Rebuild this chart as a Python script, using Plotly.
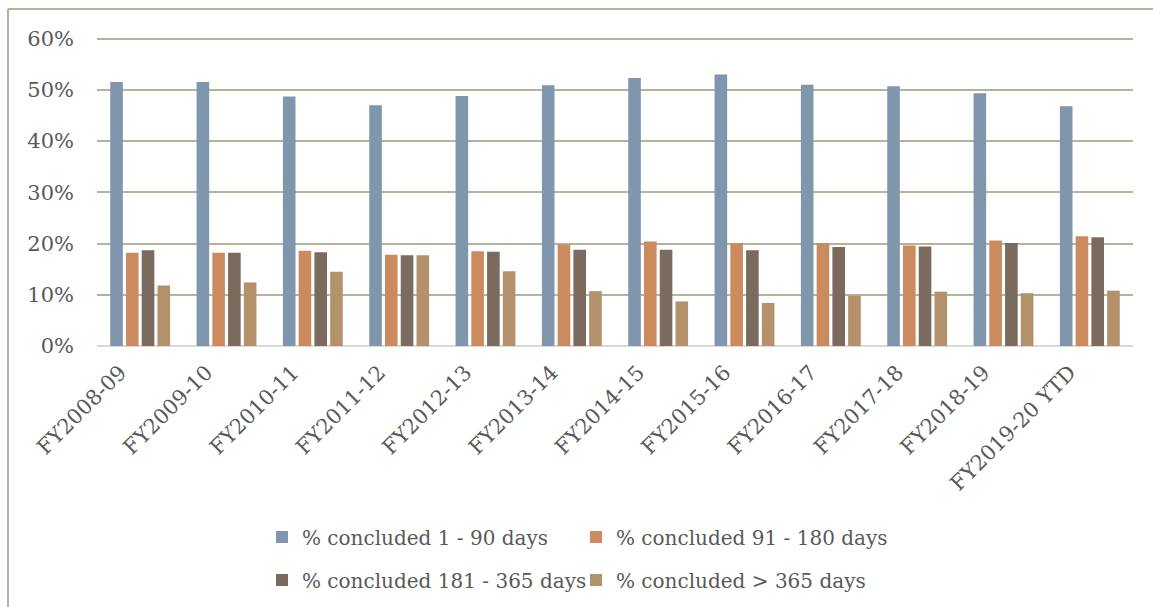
import plotly.graph_objects as go

categories = ["FY2008-09", "FY2009-10", "FY2010-11", "FY2011-12", "FY2012-13", "FY2013-14",
              "FY2014-15", "FY2015-16", "FY2016-17", "FY2017-18", "FY2018-19", "FY2019-20 YTD"]
s_1_90 = [0.515, 0.515, 0.487, 0.470, 0.488, 0.509, 0.523, 0.530, 0.510, 0.507, 0.493, 0.468]
s_91_180 = [0.182, 0.182, 0.186, 0.178, 0.185, 0.198, 0.204, 0.201, 0.201, 0.196, 0.206, 0.214]
s_181_365 = [0.187, 0.182, 0.183, 0.177, 0.184, 0.188, 0.188, 0.187, 0.193, 0.194, 0.201, 0.212]
s_365 = [0.118, 0.124, 0.145, 0.177, 0.146, 0.107, 0.087, 0.084, 0.098, 0.106, 0.103, 0.108]
series_names = ["% concluded 1 - 90 days", "% concluded 91 - 180 days",
                "% concluded 181 - 365 days", "% concluded > 365 days"]
y_ticks = [0, 0.1, 0.2, 0.3, 0.4, 0.5, 0.6]
y_tick_labels = ["0%", "10%", "20%", "30%", "40%", "50%", "60%"]

colors = ["#7F96AD", "#CC8B5E", "#7B6A5E", "#B3916B"]
legends = ["legend", "legend", "legend2", "legend2"]
FONT = "DejaVu Serif"
TXT = "#595959"

fig = go.Figure()
for name, vals, col, lg in zip(series_names, [s_1_90, s_91_180, s_181_365, s_365], colors, legends):
    fig.add_trace(go.Bar(x=categories, y=vals, name=name, marker=dict(color=col, line=dict(width=0)),
                         legend=lg))

W, H = 1153, 607
L, R, T, B = 97, 20, 35, 261
ph = H - T - B
y_top = 0.6 * ph / (ph - 3.5)

def py(pix):
    return (H - B - pix) / ph

def px(pix):
    return (pix - L) / (W - L - R)

def cy(pix):
    return 1 - pix / H

def cx(pix):
    return pix / W

leg_common = dict(orientation="h", xref="container", yref="container", xanchor="left",
                  yanchor="middle", entrywidth=269, entrywidthmode="pixels",
                  font=dict(family=FONT, size=20, color=TXT), bgcolor="rgba(0,0,0,0)")

fig.update_layout(
    width=W, height=H,
    margin=dict(l=L, r=R, t=T, b=B, autoexpand=False),
    paper_bgcolor="white", plot_bgcolor="white",
    barmode="group", bargap=0.27, bargroupgap=0.2,
    font=dict(family=FONT, size=20, color=TXT),
    xaxis=dict(tickangle=-45, tickfont=dict(family=FONT, size=21, color=TXT),
               showgrid=False, showline=False, ticks="", ticklabelstandoff=9,
               ticklabelshift=-20, automargin=False),
    yaxis=dict(range=[0, y_top], tickvals=y_ticks, ticktext=y_tick_labels,
               tickfont=dict(family=FONT, size=21, color=TXT),
               showgrid=True, gridcolor="#B2B598", gridwidth=2,
               zeroline=True, zerolinecolor="#D9D9D9", zerolinewidth=2,
               showline=False, ticks="", ticklabelstandoff=22, automargin=False),
    legend=dict(x=cx(262), y=cy(537), **leg_common),
    legend2=dict(x=cx(262), y=cy(580), **leg_common),
    showlegend=True,
    shapes=[
        dict(type="line", xref="paper", yref="paper", x0=px(8), x1=px(1153), y0=py(9), y1=py(9),
             line=dict(color="#B2B598", width=2)),
        dict(type="line", xref="paper", yref="paper", x0=px(8), x1=px(8), y0=py(9), y1=py(607),
             line=dict(color="#B2B598", width=2)),
    ],
)

fig.write_html("out.html", config={"displayModeBar": False},
               post_script="document.body.style.margin='0';document.body.style.overflow='hidden';")
